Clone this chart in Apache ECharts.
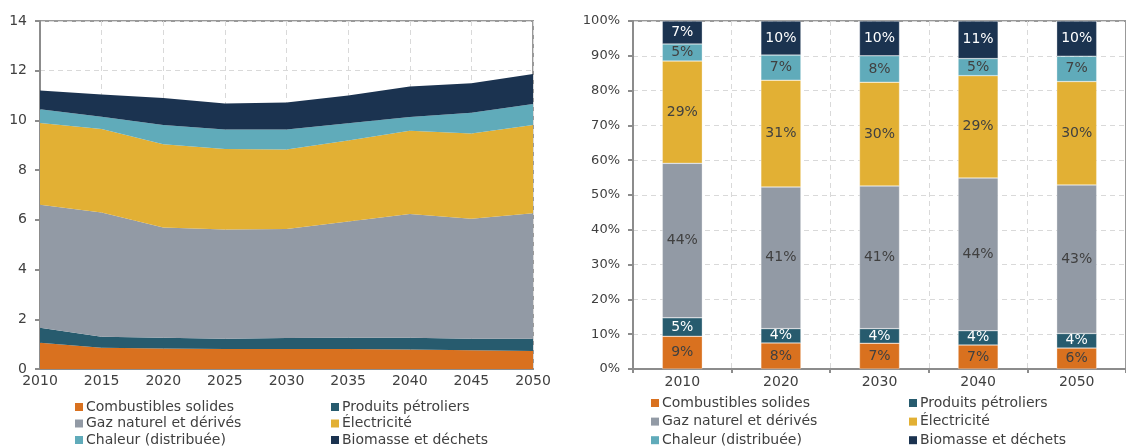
<!DOCTYPE html>
<html>
<head>
<meta charset="utf-8">
<script src="https://cdn.jsdelivr.net/npm/echarts@6/dist/echarts.min.js"></script>
<style>
    body { margin: 0; background: #fff; }
    #chart { width: 1126px; height: 447px; }
</style>
</head>
<body>
<div id="chart"></div>
<script>
// consommation finale par vecteur (gauche, valeurs absolues)
var years = ['2010', '2015', '2020', '2025', '2030', '2035', '2040', '2045', '2050'];
var solides = [1.06, 0.85, 0.82, 0.80, 0.80, 0.80, 0.78, 0.75, 0.72];
var petroliers = [0.60, 0.45, 0.44, 0.42, 0.45, 0.46, 0.48, 0.47, 0.50];
var gaz = [4.95, 5.00, 4.43, 4.39, 4.38, 4.67, 4.98, 4.82, 5.05];
var elec = [3.29, 3.36, 3.35, 3.24, 3.20, 3.26, 3.34, 3.43, 3.55];
var chaleur = [0.55, 0.49, 0.78, 0.79, 0.81, 0.70, 0.56, 0.84, 0.84];
var biomasse = [0.75, 0.89, 1.08, 1.04, 1.08, 1.11, 1.22, 1.19, 1.21];

// parts en % (droite)
var pctYears = ['2010', '2020', '2030', '2040', '2050'];
var pctSolides = [9.4, 7.5, 7.4, 6.9, 6.0];
var pctPetroliers = [5.3, 4.1, 4.2, 4.1, 4.2];
var pctGaz = [44.4, 40.7, 41.0, 43.9, 42.7];
var pctElec = [29.4, 30.7, 29.8, 29.4, 29.7];
var pctChaleur = [4.9, 7.2, 7.6, 4.9, 7.3];
var pctBiomasse = [6.6, 9.8, 10.0, 10.8, 10.1];

var names = ['Combustibles solides', 'Produits pétroliers', 'Gaz naturel et dérivés', 'Électricité', 'Chaleur (distribuée)', 'Biomasse et déchets'];
var colors = ['#D9711F', '#275B6E', '#929AA5', '#E2B034', '#60ABBA', '#1B3350'];
var labelColors = ['#404040', '#ffffff', '#404040', '#404040', '#404040', '#ffffff'];

var absData = [solides, petroliers, gaz, elec, chaleur, biomasse];
var pctData = [pctSolides, pctPetroliers, pctGaz, pctElec, pctChaleur, pctBiomasse];

var font = 'DejaVu Sans';
var txt = '#404040';
var axisGrey = '#8C8C8C';

var series = [];
names.forEach(function (n, i) {
    series.push({
        name: n,
        type: 'line',
        stack: 'abs',
        xAxisIndex: 0,
        yAxisIndex: 0,
        data: absData[i],
        showSymbol: false,
        lineStyle: { width: 0 },
        areaStyle: { color: colors[i], opacity: 1 },
        itemStyle: { color: colors[i] },
        z: 2
    });
});
names.forEach(function (n, i) {
    series.push({
        name: n,
        type: 'bar',
        stack: 'pct',
        xAxisIndex: 1,
        yAxisIndex: 1,
        data: pctData[i],
        barWidth: 40,
        itemStyle: { color: colors[i], borderColor: 'rgba(255,255,255,0.6)', borderWidth: 0.5 },
        label: {
            show: true,
            position: 'inside',
            color: labelColors[i],
            fontFamily: font,
            fontSize: 14,
            formatter: function (p) { return Math.round(p.value) + '%'; }
        },
        z: 2
    });
});

function legendCol(left, top, items, gap) {
    return {
        orient: 'vertical',
        left: left,
        top: top,
        height: 70,
        data: items.map(function (n) { return { name: n, icon: 'rect' }; }),
        itemWidth: 8,
        itemHeight: 8,
        itemGap: gap,
        padding: 0,
        selectedMode: false,
        textStyle: { fontFamily: font, fontSize: 14, color: txt, lineHeight: 16, padding: [0, 0, 0, -2] }
    };
}

var chart = echarts.init(document.getElementById('chart'));
chart.setOption({
    animation: false,
    backgroundColor: '#fff',
    grid: [
        { left: 40, right: 593, top: 21, bottom: 78, show: true, borderColor: '#999', borderWidth: 2 },
        { left: 633, right: -9, top: 21, bottom: 78, show: true, borderColor: '#999', borderWidth: 2 }
    ],
    legend: [
        legendCol(75, 399, [names[0], names[2], names[4]], 0.5),
        legendCol(331, 399, [names[1], names[3], names[5]], 0.5),
        legendCol(651, 395, [names[0], names[2], names[4]], 2.6),
        legendCol(909, 395, [names[1], names[3], names[5]], 2.6)
    ],
    xAxis: [
        {
            gridIndex: 0,
            type: 'category',
            data: years,
            boundaryGap: false,
            axisLine: { lineStyle: { color: axisGrey, width: 2 } },
            axisTick: { show: false },
            axisLabel: { color: txt, fontFamily: font, fontSize: 14, margin: 5 },
            splitLine: { show: true, lineStyle: { color: '#D9D9D9', type: [5, 4] } }
        },
        {
            gridIndex: 1,
            type: 'category',
            data: pctYears,
            axisLine: { lineStyle: { color: axisGrey, width: 2 } },
            axisTick: { show: true, length: 4, lineStyle: { color: axisGrey, width: 2 } },
            axisLabel: { color: txt, fontFamily: font, fontSize: 14, margin: 6 },
            splitLine: { show: true, lineStyle: { color: '#D9D9D9', type: [5, 4] } }
        }
    ],
    yAxis: [
        {
            gridIndex: 0,
            type: 'value',
            min: 0,
            max: 14,
            interval: 2,
            axisLine: { show: true, lineStyle: { color: axisGrey, width: 2 } },
            axisTick: { show: true, length: 5, lineStyle: { color: axisGrey, width: 2 } },
            axisLabel: { color: txt, fontFamily: font, fontSize: 14, margin: 13 },
            splitLine: { show: true, lineStyle: { color: '#D9D9D9', type: [5, 4] } }
        },
        {
            gridIndex: 1,
            type: 'value',
            min: 0,
            max: 100,
            interval: 10,
            axisLine: { show: true, lineStyle: { color: axisGrey, width: 2 } },
            axisTick: { show: true, length: 5, lineStyle: { color: axisGrey, width: 2 } },
            axisLabel: { color: txt, fontFamily: font, fontSize: 13, margin: 13, formatter: '{value}%' },
            splitLine: { show: true, lineStyle: { color: '#D9D9D9', type: [5, 4] } }
        }
    ],
    series: series
});
</script>
</body>
</html>
